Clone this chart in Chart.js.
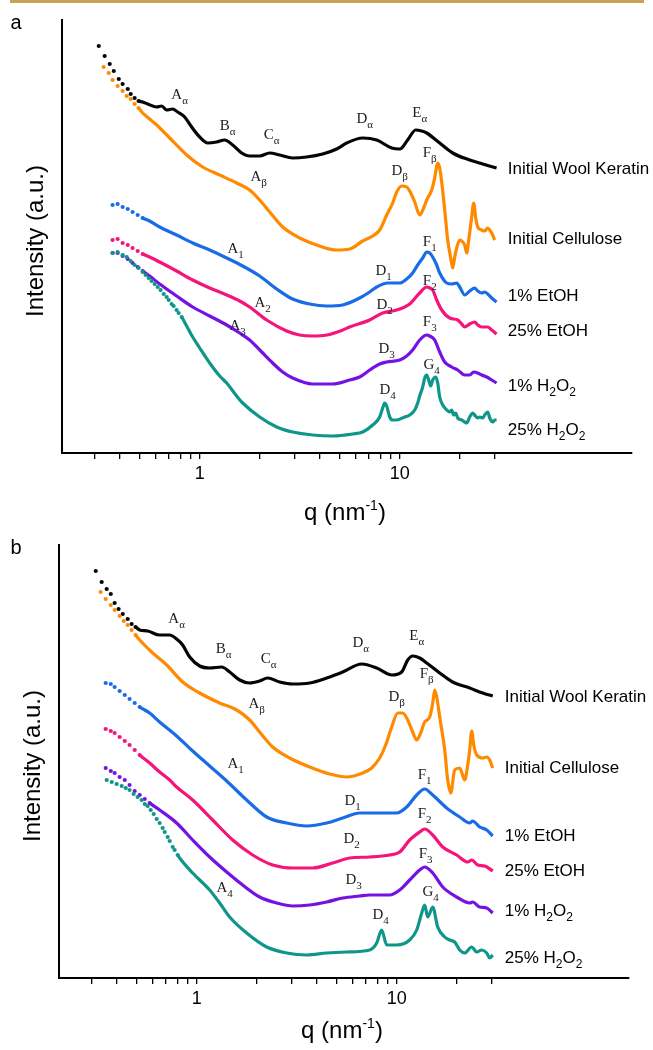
<!DOCTYPE html>
<html><head><meta charset="utf-8">
<script src="https://cdn.jsdelivr.net/npm/chart.js@4.4.1/dist/chart.umd.min.js"></script>
<style>
html,body{margin:0;padding:0;background:#fff;}
body{width:653px;height:1050px;position:relative;overflow:hidden;}
#bar{position:absolute;left:10px;top:0;width:634px;height:3px;background:#c9a257;}
#wa{position:absolute;left:0;top:0;width:653px;height:525px;}
#wb{position:absolute;left:-3px;top:525px;width:653px;height:525px;}
canvas{display:block;}
</style></head><body>
<div id="wa"><canvas id="ca" width="653" height="525"></canvas></div>
<div id="wb"><canvas id="cb" width="653" height="525"></canvas></div>
<div id="bar"></div>
<script>
// ---------- DATA (q in nm^-1, intensity in arbitrary offset units) ----------
const seriesNames = ['Initial Wool Keratin','Initial Cellulose','1% EtOH','25% EtOH','1% H_2O_2','25% H_2O_2'];
const qTicks = [0.3,0.4,0.5,0.6,0.7,0.8,0.9,1,2,3,4,5,6,7,8,9,10,20,30];
const qTickLabels = [1, 10];

// Panel a
const woolA = [[0.313,407],[0.335,397],[0.355,389],[0.372,382],[0.394,374],[0.412,369],[0.437,364],[0.452,359],[0.473,355],[0.495,352],
 [0.519,351],[0.55,349],[0.61,346],[0.646,347],[0.684,343],[0.733,344],[0.776,341],[0.841,336],[0.912,326],[1.0,316],[1.096,310],[1.216,311],[1.334,313],[1.462,308],[1.622,300],[1.778,297],[1.995,297],[2.239,300],[2.512,298],[2.917,295],[3.428,296],[4.121,299],[4.842,304],[5.433,310],[6.531,315],[7.674,313],[9.12,305],[10,304],[10.96,313],[12.02,323],[12.88,322],[13.65,320],[15.85,310],[18.41,300],[22.39,293],[26.0,289],[30.5,285]];
const celluloseA = [[0.331,386],[0.351,380],[0.367,373],[0.389,367],[0.412,362],[0.432,357],[0.452,354],[0.473,349],[0.495,345],
 [0.519,340],[0.562,334],[0.61,328],[0.708,315],[0.861,298],[1.035,286],[1.259,278],[1.531,270],[1.778,263],[1.995,253],[2.239,241],[2.6,226],[3.162,215],[3.846,208],[4.842,203],[5.623,204],[6.531,212],[7.328,217],[7.943,223],[8.61,238],[9.226,250],[9.661,261],[10.23,267],[10.84,266],[11.22,262],[11.89,251],[12.59,238],[13.18,245],[13.65,253],[14.45,263],[14.96,275],[15.49,290],[15.85,285],[16.22,271],[16.79,243],[17.38,213],[17.99,195],[18.41,185],[18.84,196],[19.28,205],[19.95,213],[20.42,212],[21.13,208],[21.63,200],[22.13,213],[22.91,236],[23.44,250],[23.99,235],[24.55,226],[25.7,223],[26.6,222],[27.54,225],[28.18,223],[28.84,220],[29.85,213]];
const etoh1A = [[0.367,248],[0.389,249],[0.412,246],[0.437,244],[0.462,241],[0.490,238],[0.519,235],
 [0.562,232],[0.631,226],[0.767,218],[0.923,210],[1.122,203],[1.365,195],[1.641,187],[1.995,177],[2.427,164],[2.917,154],[3.548,149],[4.315,147],[5.188,148],[6.31,155],[7.079,161],[7.674,166],[8.71,170],[10,170],[10.84,174],[11.61,180],[12.30,188],[13.03,195],[13.65,201],[14.13,200],[14.62,196],[15.31,188],[15.85,180],[17.18,170],[18.2,169],[19.28,170],[19.95,166],[21.13,158],[22.39,162],[23.71,165],[24.55,162],[25.7,160],[26.6,161],[27.54,159],[28.84,155],[30.5,151]];
const etoh25A = [[0.367,213],[0.389,214],[0.412,210],[0.437,208],[0.462,205],[0.490,202],[0.519,199],
 [0.562,196],[0.631,191],[0.767,182],[0.923,173],[1.122,165],[1.365,158],[1.585,152],[1.778,146],[2.163,133],[2.723,122],[3.162,118],[3.673,117],[4.315,118],[5.188,123],[5.623,126],[7.079,133],[8.222,140],[9.661,143],[11.22,149],[12.59,160],[13.65,166],[14.13,165],[14.62,163],[15.31,153],[16.22,143],[17.78,135],[19.5,133],[20.42,129],[21.13,126],[22.39,129],[23.71,131],[24.55,128],[25.7,126],[27.54,126],[28.84,123],[30.5,119]];
const h2o2_1A = [[0.367,200],[0.389,200],[0.412,197],[0.437,194],[0.462,190],[0.490,186],[0.519,182],
 [0.562,177],[0.631,169],[0.767,157],[0.923,146],[1.122,137],[1.365,128],[1.585,120],[1.778,113],[2.042,101],[2.317,90],[2.6,81],[2.917,75],[3.673,69],[4.624,69],[5.623,73],[6.31,76],[7.079,83],[7.943,89],[8.61,91],[10,93],[10.84,97],[11.61,103],[12.59,113],[13.65,118],[14.13,117],[14.96,113],[15.85,101],[16.79,91],[18.2,86],[19.5,83],[21.13,78],[22.39,78],[23.44,81],[24.55,80],[25.7,78],[27.23,76],[28.84,73],[30.5,70]];
const h2o2_25A = [[0.367,200],[0.389,201],[0.412,198],[0.432,196],[0.452,192],[0.473,188],[0.495,185],[0.519,181],[0.537,178],[0.556,175],[0.575,172],[0.596,169],[0.617,166],[0.638,163],[0.661,159],[0.684,156],[0.700,153],[0.724,149],[0.741,147],[0.767,143],[0.785,140],[0.813,136],
 [0.861,127],[0.923,116],[1.0,105],[1.122,90],[1.259,77],[1.365,70],[1.531,57],[1.641,50],[1.995,36],[2.427,26],[2.917,21],[3.673,18],[4.624,17],[5.821,19],[6.531,21],[7.328,28],[7.943,36],[8.222,45],[8.414,50],[8.61,47],[8.913,36],[9.226,33],[9.661,33],[10.59,36],[11.22,38],[11.89,43],[12.30,50],[12.59,57],[13.03,66],[13.34,75],[13.65,78],[13.96,73],[14.29,67],[14.62,73],[15.14,76],[15.49,70],[15.85,56],[16.41,48],[17.18,43],[17.78,41],[18.2,43],[18.62,38],[19.05,40],[19.5,35],[20.42,33],[21.13,31],[21.63,30],[22.39,36],[23.17,40],[23.71,38],[24.55,35],[25.12,36],[26.0,35],[26.6,38],[27.54,41],[28.18,35],[29.17,31],[29.85,33],[30.5,33]];

// Panel b
const woolB = [[0.313,407],[0.335,396],[0.355,389],[0.372,384],[0.389,375],[0.407,369],[0.427,364],[0.452,359],[0.473,354],[0.495,351],
 [0.519,348],[0.569,347],[0.653,343],[0.733,343],[0.794,339],[0.851,333],[0.923,321],[1.035,312],[1.161,310],[1.334,311],[1.462,306],[1.641,298],[1.841,295],[2.065,297],[2.265,300],[2.6,296],[3.02,294],[3.673,295],[4.467,300],[5.37,306],[6.683,314],[7.943,310],[9.441,303],[10.59,306],[11.35,318],[12.02,322],[13.03,320],[14.13,315],[16.41,305],[19.05,296],[23.17,290],[26.92,285],[30.2,282]];
const celluloseB = [[0.331,386],[0.351,379],[0.372,373],[0.389,368],[0.412,362],[0.432,357],[0.452,353],[0.473,348],[0.495,343],
 [0.519,338],[0.603,325],[0.708,313],[0.851,296],[1.035,285],[1.303,275],[1.585,268],[1.841,258],[2.065,246],[2.399,231],[2.917,220],[3.673,211],[4.624,204],[5.623,201],[6.761,205],[7.499,210],[8.222,220],[8.81,233],[9.441,251],[10.12,265],[10.72,265],[11.35,258],[12.02,246],[12.59,238],[13.18,245],[13.80,256],[14.62,261],[15.14,275],[15.49,288],[15.85,281],[16.41,261],[17.38,228],[17.99,198],[18.62,185],[19.5,208],[20.65,210],[21.88,198],[22.65,213],[23.17,228],[23.71,247],[24.27,233],[25.12,223],[26.92,220],[28.18,221],[29.17,218],[30.2,210]];
const etoh1B = [[0.351,295],[0.372,294],[0.389,291],[0.412,287],[0.437,283],[0.462,279],[0.49,275],[0.519,271],
 [0.582,265],[0.653,256],[0.794,242],[0.955,227],[1.161,212],[1.413,197],[1.778,178],[2.239,161],[2.818,155],[3.548,152],[4.467,155],[5.37,160],[6.531,165],[8.222,165],[10,165],[11.22,171],[12.59,183],[13.80,189],[15.14,183],[17.78,170],[20.65,161],[23.17,155],[23.99,157],[26.0,151],[28.18,148],[30.2,142]];
const etoh25B = [[0.351,249],[0.372,247],[0.389,245],[0.412,241],[0.437,237],[0.462,233],[0.49,228],[0.519,223],
 [0.582,215],[0.653,206],[0.733,198],[0.794,191],[0.955,178],[1.202,158],[1.514,138],[1.905,123],[2.399,113],[3.02,110],[3.802,110],[4.786,115],[5.821,120],[7.328,121],[9.226,123],[10.35,126],[11.61,138],[13.03,146],[13.80,149],[15.14,143],[16.98,131],[19.95,123],[22.65,116],[23.71,118],[25.41,113],[27.54,112],[30.2,107]];
const h2o2_1B = [[0.351,210],[0.372,207],[0.389,205],[0.412,201],[0.437,198],[0.462,193],[0.49,187],[0.519,183],[0.55,179],[0.582,175],
 [0.653,168],[0.794,155],[0.955,138],[1.161,121],[1.413,106],[1.698,93],[2.065,81],[2.512,75],[3.02,72],[3.673,73],[4.467,76],[5.37,80],[6.531,82],[7.328,83],[9.226,83],[10.35,88],[11.61,98],[13.03,108],[13.80,111],[15.14,105],[16.98,91],[19.95,81],[23.17,75],[23.99,76],[26.0,71],[28.18,70],[30.2,65]];
const h2o2_25B = [[0.355,198],[0.376,196],[0.398,194],[0.422,192],[0.442,190],[0.462,188],[0.484,184],[0.507,181],[0.531,178],[0.55,174],[0.569,172],[0.589,168],[0.61,164],[0.631,159],[0.653,155],[0.676,150],[0.692,146],[0.716,141],[0.733,137],[0.759,131],[0.776,128],[0.804,123],
 [0.822,120],[0.955,105],[1.161,88],[1.303,75],[1.462,61],[1.778,45],[2.239,31],[2.818,25],[3.548,23],[4.467,25],[5.623,26],[7.328,28],[7.943,35],[8.414,48],[8.913,33],[10,33],[11.61,38],[12.59,48],[13.34,65],[13.80,73],[14.29,61],[15.14,71],[16.03,51],[17.38,41],[18.41,38],[19.5,36],[20.65,28],[21.88,25],[23.71,31],[25.12,26],[26.6,28],[28.18,25],[29.17,20],[30.2,23]];

// Peak annotations: [text, q, intensity]
const peakLabelsA = [['A_α',0.794,357],['B_α',1.380,326],['C_α',2.291,317],['A_β',1.972,275],['A_1',1.514,203],['D_α',6.683,333],['E_α',12.59,339],['F_β',14.13,299],['D_β',10,281],['F_1',14.13,210],['D_1',8.318,181],['F_2',14.13,171],['D_2',8.414,147],['A_2',2.065,149],['A_3',1.549,126],['F_3',14.13,130],['D_3',8.61,103],['G_4',14.45,87],['D_4',8.71,62]];
const peakLabelsB = [['A_α',0.794,358],['B_α',1.365,328],['C_α',2.291,318],['A_β',1.995,273],['A_1',1.567,213],['D_α',6.607,334],['E_α',12.59,341],['F_β',14.13,303],['D_β',10,280],['F_1',13.80,202],['D_1',6.026,176],['F_2',13.80,163],['D_2',5.957,138],['F_3',13.96,123],['D_3',6.095,97],['G_4',14.79,85],['D_4',8.318,62],['A_4',1.380,89]];

// ---------- STYLE / LAYOUT ----------
const colors = ['#050505','#ff8a00','#1a6ce6','#f5147a','#7412e4','#0f968a'];
const SANS = '"Liberation Sans", Arial, sans-serif';
const SERIF = '"Liberation Serif", "Times New Roman", serif';
const seriesLabelQ = 34.7;
const seriesLabelYA = [285,215,158,123,68,24];
const seriesLabelYB = [282,211,143,108,68,21];
const dotLimitsA = [0.5,0.5,0.53,0.53,0.53,0.82];
const dotLimitsB = [0.5,0.5,0.53,0.53,0.59,0.81];

function parseRich(s){
  const parts=[]; let i=0, cur='';
  while(i<s.length){
    const ch=s[i];
    if(ch==='_'){ if(cur){parts.push([cur,0]);cur='';} parts.push([s[i+1],1]); i+=2; }
    else if(ch==='^' && s[i+1]==='{'){ if(cur){parts.push([cur,0]);cur='';} const j=s.indexOf('}',i); parts.push([s.slice(i+2,j),2]); i=j+1; }
    else { cur+=ch; i++; }
  }
  if(cur) parts.push([cur,0]);
  return parts;
}
function drawRich(ctx, s, x, y, size, family, align, subScale){
  const parts=parseRich(s);
  const small=Math.round(size*(subScale||0.68));
  const fonts=parts.map(p=>(p[1]?small:size)+'px '+family);
  let w=0;
  const ws=parts.map((p,k)=>{ctx.font=fonts[k]; const m=ctx.measureText(p[0]).width; w+=m; return m;});
  let cx = align==='center' ? x-w/2 : x;
  ctx.textAlign='left'; ctx.textBaseline='alphabetic';
  const base = y + size*0.35;
  parts.forEach((p,k)=>{
    ctx.font=fonts[k];
    const dy = p[1]===1 ? size*0.3 : (p[1]===2 ? -size*0.42 : 0);
    ctx.fillText(p[0], cx, base+dy);
    cx += ws[k];
  });
}

const textPlugin = {
  id:'texts',
  afterDraw(chart, args, o){
    const {ctx} = chart; const xs=chart.scales.x, ys=chart.scales.y;
    ctx.save();
    ctx.fillStyle='#1c1c1c';
    o.peaks.forEach(([t,q,v])=>drawRich(ctx,t,xs.getPixelForValue(q),ys.getPixelForValue(v)-2,15,SERIF,'center',0.7));
    ctx.fillStyle='#000';
    seriesNames.forEach((n,i)=>drawRich(ctx,n,xs.getPixelForValue(seriesLabelQ),ys.getPixelForValue(o.labelYs[i]),17,SANS,'left',0.7));
    drawRich(ctx,o.letter,o.letterX,o.letterY,20,SANS,'center');
    drawRich(ctx,'q (nm^{-1})',345,o.xTitleY,24,SANS,'center',0.6);
    ctx.translate(35,241); ctx.rotate(-Math.PI/2);
    drawRich(ctx,'Intensity (a.u.)',0,0,24,SANS,'center');
    ctx.restore();
  }
};

function makeChart(id, series, dotLimits, peaks, labelYs, letter, letterX, letterY, xTitleY){
  const datasets = series.map((pts,i)=>({
    label: seriesNames[i],
    data: pts.map(p=>({x:p[0],y:p[1]})),
    borderColor: colors[i], backgroundColor: colors[i],
    pointBackgroundColor: colors[i], pointBorderWidth: 0,
    borderWidth: 3.2, cubicInterpolationMode: 'monotone',
    pointRadius: c => (c.raw && c.raw.x <= dotLimits[i]) ? 2.1 : 0,
    pointHoverRadius: 0,
    segment: { borderColor: c => (c.p1.parsed.x <= dotLimits[i]) ? 'rgba(0,0,0,0)' : undefined },
    order: 5 - i
  }));
  return new Chart(document.getElementById(id), {
    type: 'line',
    data: { datasets },
    options: {
      responsive:false, animation:false, devicePixelRatio:1,
      layout:{ padding:{ left:0, right:21, top:20, bottom:0 } },
      plugins:{ legend:{display:false}, tooltip:{enabled:false},
        texts:{ peaks, labelYs, letter, letterX, letterY, xTitleY } },
      scales:{
        x:{ type:'logarithmic', min:0.205, max:145,
          afterBuildTicks: s => { s.ticks = qTicks.map(v=>({value:v})); },
          afterFit: s => { s.height = 72; },
          ticks:{ autoSkip:false, maxRotation:0, minRotation:0, padding:4, color:'#000',
            font:{ family:SANS, size:18 },
            callback: v => qTickLabels.includes(v) ? String(v) : '' },
          grid:{ display:true, drawOnChartArea:false, drawTicks:true, tickLength:6, color:'#000', lineWidth:1.3 },
          border:{ display:true, color:'#000', width:2 } },
        y:{ type:'linear', min:0, max:433,
          afterFit: s => { s.width = 62; },
          ticks:{ display:false }, grid:{ display:false },
          border:{ display:true, color:'#000', width:2 } }
      }
    },
    plugins:[textPlugin]
  });
}

makeChart('ca', [woolA,celluloseA,etoh1A,etoh25A,h2o2_1A,h2o2_25A], dotLimitsA, peakLabelsA, seriesLabelYA, 'a', 16, 22, 512);
makeChart('cb', [woolB,celluloseB,etoh1B,etoh25B,h2o2_1B,h2o2_25B], dotLimitsB, peakLabelsB, seriesLabelYB, 'b', 19, 22, 505);
</script>
</body></html>
